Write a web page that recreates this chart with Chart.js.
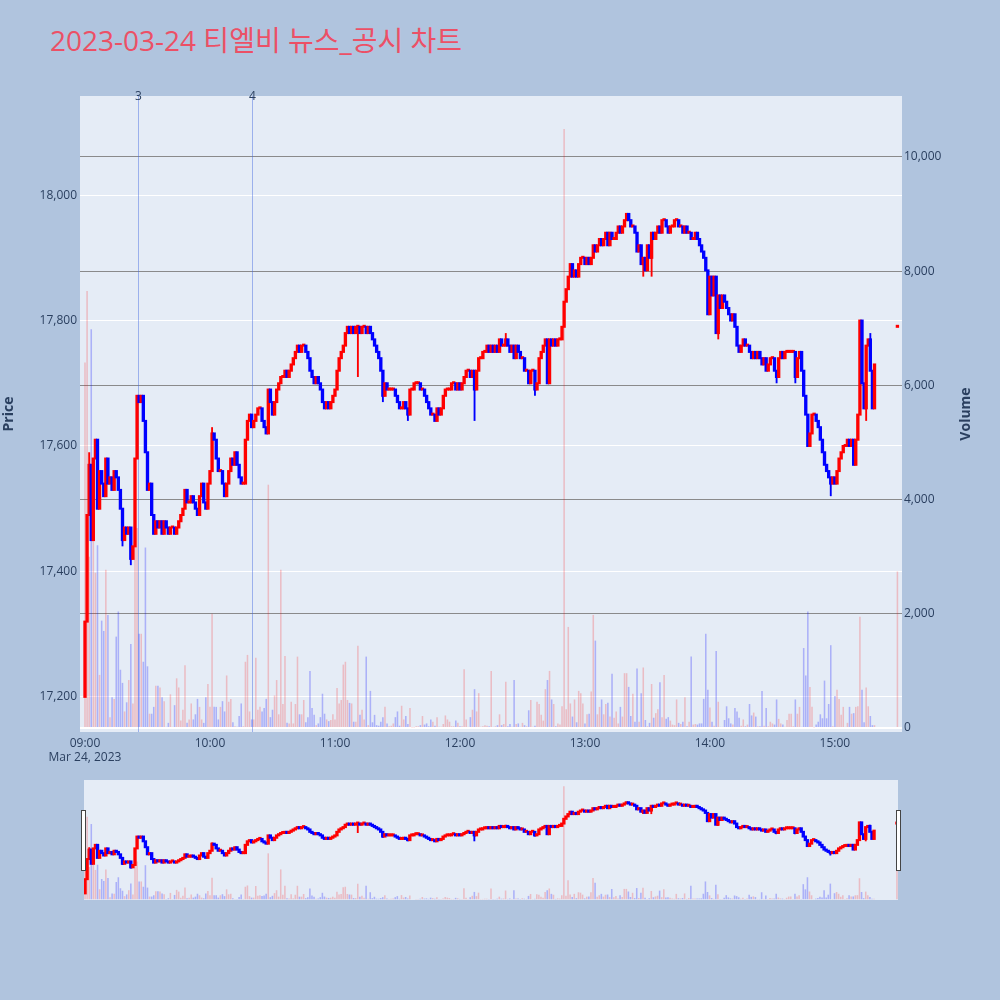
<!DOCTYPE html>
<html>
<head>
<meta charset="utf-8">
<script src="https://cdn.jsdelivr.net/npm/chart.js@4.4.0/dist/chart.umd.min.js"></script>
<style>
  html, body { margin: 0; padding: 0; background: #b0c4de; }
  body { width: 1000px; height: 1000px; position: relative; overflow: hidden; font-family: "Open Sans", "Noto Sans CJK KR", sans-serif; }
  #title { position: absolute; left: 50px; top: 0; height: 80px; line-height: 80px; font-size: 28px; color: rgb(236, 80, 102); white-space: nowrap; }
  #priceChart { position: absolute; left: 0; top: 0; }
  #sliderChart { position: absolute; left: 0; top: 770px; }
</style>
</head>
<body>
<div id="title">2023-03-24 티엘비 뉴스_공시 차트</div>
<canvas id="priceChart" width="1000" height="770"></canvas>
<canvas id="sliderChart" width="1000" height="150"></canvas>
<script>
// 1-minute candles, 09:00 .. 15:19 (minute index from 09:00), open = previous close
const firstOpen = 17200;
const closes = [
  17320,17490,17570,17450,17580,17610,17500,17560,17540,17520,
  17580,17540,17550,17530,17560,17550,17530,17500,17450,17470,
  17460,17470,17420,17440,17580,17680,17670,17680,17640,17590,
  17530,17540,17490,17460,17480,17470,17480,17460,17480,17470,
  17460,17470,17470,17460,17470,17480,17490,17500,17530,17510,
  17510,17520,17510,17500,17490,17520,17540,17510,17500,17540,
  17560,17620,17610,17580,17560,17560,17540,17520,17540,17560,
  17580,17570,17590,17570,17550,17540,17540,17610,17640,17650,
  17630,17640,17650,17660,17660,17640,17630,17620,17690,17670,
  17650,17670,17690,17700,17710,17710,17720,17710,17720,17730,
  17740,17750,17760,17750,17760,17760,17750,17740,17720,17710,
  17700,17710,17700,17690,17670,17660,17670,17660,17670,17680,
  17690,17720,17740,17750,17760,17780,17790,17780,17790,17780,
  17790,17790,17780,17790,17790,17780,17790,17780,17770,17760,
  17750,17740,17720,17680,17700,17690,17690,17690,17690,17680,
  17670,17660,17660,17670,17660,17650,17690,17690,17700,17700,
  17700,17690,17690,17680,17670,17660,17650,17650,17640,17660,
  17650,17660,17680,17690,17690,17690,17700,17700,17690,17700,
  17690,17700,17710,17720,17720,17710,17720,17690,17720,17740,
  17740,17750,17750,17760,17750,17760,17750,17760,17750,17770,
  17760,17760,17770,17760,17750,17760,17740,17760,17750,17740,
  17740,17720,17720,17700,17720,17720,17690,17700,17740,17750,
  17760,17770,17700,17770,17760,17770,17760,17770,17770,17790,
  17830,17850,17870,17890,17870,17880,17870,17890,17900,17900,
  17890,17900,17890,17900,17920,17910,17920,17930,17920,17930,
  17940,17920,17940,17930,17930,17940,17950,17940,17950,17960,
  17970,17960,17950,17950,17940,17910,17920,17890,17900,17880,
  17920,17900,17940,17930,17940,17950,17940,17960,17960,17950,
  17940,17950,17950,17960,17960,17950,17950,17940,17950,17940,
  17940,17930,17930,17940,17930,17920,17910,17900,17880,17810,
  17870,17840,17870,17780,17840,17820,17840,17830,17820,17810,
  17800,17810,17790,17760,17750,17760,17770,17760,17760,17750,
  17740,17750,17740,17750,17740,17730,17740,17720,17730,17740,
  17740,17720,17710,17740,17750,17740,17750,17750,17750,17750,
  17750,17710,17740,17750,17720,17680,17650,17600,17620,17650,
  17650,17640,17630,17610,17590,17570,17560,17550,17540,17550,
  17540,17560,17580,17590,17600,17600,17610,17600,17610,17570,
  17610,17650,17800,17700,17660,17760,17770,17720,17660,17730
];
const volumes = [
  6400,7650,3000,6980,3500,2720,3200,930,1880,1700,
  2770,1980,190,540,510,1600,2040,1020,790,290,
  450,840,1470,430,3300,3500,1650,1650,1160,3160,
  1080,250,250,370,740,740,710,540,470,20,
  90,590,20,400,870,710,130,320,1100,90,
  150,430,150,240,510,370,150,90,540,770,
  370,2000,370,370,150,370,470,290,920,460,
  510,100,30,20,210,430,30,1160,1280,290,
  150,150,1230,320,370,290,350,510,4260,190,
  320,570,840,240,2770,420,1260,90,80,460,
  80,420,1250,240,240,490,100,190,1000,350,
  230,50,80,190,600,250,150,120,140,240,
  150,700,430,490,1110,1160,490,440,430,110,
  110,1440,230,320,150,1250,50,650,100,230,
  50,40,110,190,370,80,30,40,80,190,
  290,40,390,150,210,70,350,10,10,30,
  30,50,210,60,80,30,150,110,40,190,
  20,20,70,220,150,110,30,30,130,90,
  30,30,1030,150,20,190,320,680,290,610,
  20,30,50,40,30,1000,20,30,50,240,
  50,70,810,30,70,20,840,70,80,20,
  90,50,30,310,490,20,40,460,420,230,
  130,680,840,1000,500,420,30,80,60,380,
  10490,330,1770,430,200,500,100,650,610,430,
  80,240,250,640,1980,1530,240,370,500,240,
  420,440,200,950,180,290,80,370,200,960,
  960,720,210,600,110,1040,110,610,1060,140,
  30,90,770,180,260,330,800,190,930,160,
  190,130,60,50,500,90,70,110,540,30,
  110,1250,60,70,60,80,80,510,1650,670,
  360,110,40,1350,460,20,20,140,380,170,
  80,60,350,290,180,40,150,30,60,420,
  220,270,200,30,30,650,40,350,30,110,
  80,60,500,160,80,60,20,140,250,250,
  30,500,250,370,20,1400,920,2040,720,370,
  10,60,110,240,170,830,170,420,1450,30,
  560,670,510,230,370,20,90,370,250,260,
  370,380,1950,670,100,710,380,210,50,50
];
// wick extremes beyond the body: [minute, price]
const lowWicks = [[18,17440],[22,17410],[131,17710],[143,17670],[155,17640],[187,17640],[216,17680],[268,17870],[272,17870],[304,17770],[332,17700],[341,17700],[358,17520],[375,17640]];
const highWicks = [[2,17590],[61,17630],[202,17780],[373,17800],[377,17780]];
// closing auction at 15:30
const auctionMinute = 390;
const auctionPrice = 17790;
const auctionVolume = 2740;
// news markers
const newsMinutes = [25.5, 80.3];
const newsLabels = ["3", "4"];
// axes
const hourTicks = [0, 60, 120, 180, 240, 300, 360];
const hourLabels = ["09:00", "10:00", "11:00", "12:00", "13:00", "14:00", "15:00"];
const dateLabel = "Mar 24, 2023";
const priceTicks = [17200, 17400, 17600, 17800, 18000];
const volumeTicks = [0, 2000, 4000, 6000, 8000, 10000];

const UP = "#ff0000", DOWN = "#0000ff";
const UP_VOL = "rgba(255,0,0,0.2)", DOWN_VOL = "rgba(0,0,255,0.25)";
const TICK = "#2a3f5f";
const PLOT_BG = "#e5ecf6";
const FONT = '"Open Sans", "Noto Sans CJK KR", sans-serif';

const candles = closes.map((c, i) => ({ x: i, o: i === 0 ? firstOpen : closes[i - 1], c: c, v: volumes[i] }));
candles.push({ x: auctionMinute, o: auctionPrice, c: auctionPrice, v: auctionVolume });

const colorOf = (k) => (k.c >= k.o ? UP : DOWN);
const volColorOf = (k) => (k.c >= k.o ? UP_VOL : DOWN_VOL);

// wick bars
const wickMap = {};
lowWicks.forEach(([m, p]) => { (wickMap[m] = wickMap[m] || {}).lo = p; });
highWicks.forEach(([m, p]) => { (wickMap[m] = wickMap[m] || {}).hi = p; });
const wicks = Object.keys(wickMap).map(Number).map((m) => {
  const k = candles[m];
  const w = wickMap[m];
  const lo = Math.min(k.o, k.c, w.lo !== undefined ? w.lo : Infinity);
  const hi = Math.max(k.o, k.c, w.hi !== undefined ? w.hi : -Infinity);
  return { x: m, y: [lo, hi], col: colorOf(k) };
});

function makeDatasets(slider) {
  return [
    {
      label: "body",
      data: candles.map((k) => ({ x: k.x, y: [k.o, k.c] })),
      backgroundColor: candles.map(colorOf),
      yAxisID: "y",
      grouped: false,
      barPercentage: 0.65,
      categoryPercentage: 1,
      inflateAmount: 1,
      minBarLength: 1,
      order: 0
    },
    {
      label: "wick",
      data: wicks.map((w) => ({ x: w.x, y: w.y })),
      backgroundColor: wicks.map((w) => w.col),
      yAxisID: "y",
      grouped: false,
      barPercentage: 0.9,
      categoryPercentage: 1,
      inflateAmount: 0,
      order: 1
    },
    {
      label: "volume",
      data: candles.map((k) => ({ x: k.x, y: k.v })),
      backgroundColor: candles.map(volColorOf),
      yAxisID: "yv",
      grouped: false,
      barPercentage: 0.75,
      categoryPercentage: 1,
      inflateAmount: 0,
      order: 2
    }
  ];
}

const plotBg = {
  id: "plotBg",
  beforeDraw(chart) {
    const { ctx, chartArea: a } = chart;
    ctx.save();
    ctx.fillStyle = PLOT_BG;
    ctx.fillRect(a.left, a.top, a.right - a.left, a.bottom - a.top);
    ctx.restore();
  }
};

const newsLines = {
  id: "newsLines",
  beforeDatasetsDraw(chart) {
    const { ctx, chartArea: a } = chart;
    const xs = chart.scales.x;
    ctx.save();
    newsMinutes.forEach((m, i) => {
      const px = Math.round(xs.getPixelForValue(m)) + 0.5;
      ctx.strokeStyle = "rgba(65,105,225,0.45)";
      ctx.lineWidth = 1;
      ctx.beginPath();
      ctx.moveTo(px, a.top);
      ctx.lineTo(px, a.bottom);
      ctx.stroke();
      ctx.fillStyle = TICK;
      ctx.font = "12px " + FONT;
      ctx.textAlign = "center";
      ctx.textBaseline = "middle";
      ctx.fillText(newsLabels[i], px, a.top + 1);
    });
    ctx.restore();
  }
};

const axisTitles = {
  id: "axisTitles",
  afterDraw(chart) {
    const { ctx, chartArea: a } = chart;
    const cy = (a.top + a.bottom) / 2;
    ctx.save();
    ctx.font = "bold 14px " + FONT;
    ctx.fillStyle = TICK;
    ctx.textAlign = "center";
    ctx.textBaseline = "middle";
    [[9, "Price"], [966, "Volume"]].forEach(([x, t]) => {
      ctx.save();
      ctx.translate(x, cy);
      ctx.rotate(-Math.PI / 2);
      ctx.fillText(t, 0, 0);
      ctx.restore();
    });
    ctx.restore();
  }
};

const sliderHandles = {
  id: "sliderHandles",
  afterDraw(chart) {
    const { ctx, chartArea: a } = chart;
    ctx.save();
    ctx.fillStyle = "#ffffff";
    ctx.strokeStyle = "#444444";
    ctx.lineWidth = 1;
    [a.left - 2.5, a.right - 1.5].forEach((x) => {
      ctx.fillRect(x, a.top + 30.5, 4, 60);
      ctx.strokeRect(x, a.top + 30.5, 4, 60);
    });
    ctx.restore();
  }
};

const tickFont = { family: FONT, size: 12 };

new Chart(document.getElementById("priceChart"), {
  type: "bar",
  data: { datasets: makeDatasets(false) },
  options: {
    responsive: false,
    animation: false,
    events: [],
    layout: { padding: { left: 0, right: 25, top: 96, bottom: 0 } },
    plugins: { legend: { display: false }, tooltip: { enabled: false } },
    scales: {
      x: {
        type: "linear",
        min: -2.4,
        max: 392.2,
        offset: false,
        grid: { display: false, drawTicks: false },
        border: { display: false },
        afterBuildTicks: (ax) => { ax.ticks = hourTicks.map((v) => ({ value: v })); },
        afterFit: (ax) => { ax.height = 38; },
        ticks: {
          autoSkip: false,
          maxRotation: 0,
          padding: 4,
          color: TICK,
          font: tickFont,
          callback: (v) => {
            const i = hourTicks.indexOf(v);
            return i === 0 ? [hourLabels[0], dateLabel] : hourLabels[i];
          }
        }
      },
      y: {
        position: "left",
        min: 17144,
        max: 18158,
        afterBuildTicks: (ax) => { ax.ticks = priceTicks.map((v) => ({ value: v })); },
        afterFit: (ax) => { ax.width = 80; },
        grid: { color: "#ffffff", lineWidth: 1, drawTicks: false },
        border: { display: false },
        ticks: { padding: 3, color: TICK, font: tickFont, callback: (v) => v.toLocaleString("en-US") }
      },
      yv: {
        position: "right",
        min: -70,
        max: 11066,
        afterBuildTicks: (ax) => { ax.ticks = volumeTicks.map((v) => ({ value: v })); },
        afterFit: (ax) => { ax.width = 73; },
        grid: {
          color: (c) => (c.tick && c.tick.value === 0 ? "#ffffff" : "rgba(128,128,128,0.9)"),
          lineWidth: (c) => (c.tick && c.tick.value === 0 ? 2 : 1),
          drawTicks: false
        },
        border: { display: false },
        ticks: { padding: 2, color: TICK, font: tickFont, callback: (v) => v.toLocaleString("en-US") }
      }
    }
  },
  plugins: [plotBg, newsLines, axisTitles]
});

new Chart(document.getElementById("sliderChart"), {
  type: "bar",
  data: { datasets: makeDatasets(true) },
  options: {
    responsive: false,
    animation: false,
    events: [],
    layout: { padding: { left: 84, right: 102, top: 10, bottom: 20 } },
    plugins: { legend: { display: false }, tooltip: { enabled: false } },
    scales: {
      x: { type: "linear", display: false, min: -0.5, max: 390.5, offset: false },
      y: { display: false, min: 17144, max: 18158 },
      yv: { display: false, position: "right", min: -70, max: 11066 }
    }
  },
  plugins: [plotBg, sliderHandles]
});
</script>
</body>
</html>
